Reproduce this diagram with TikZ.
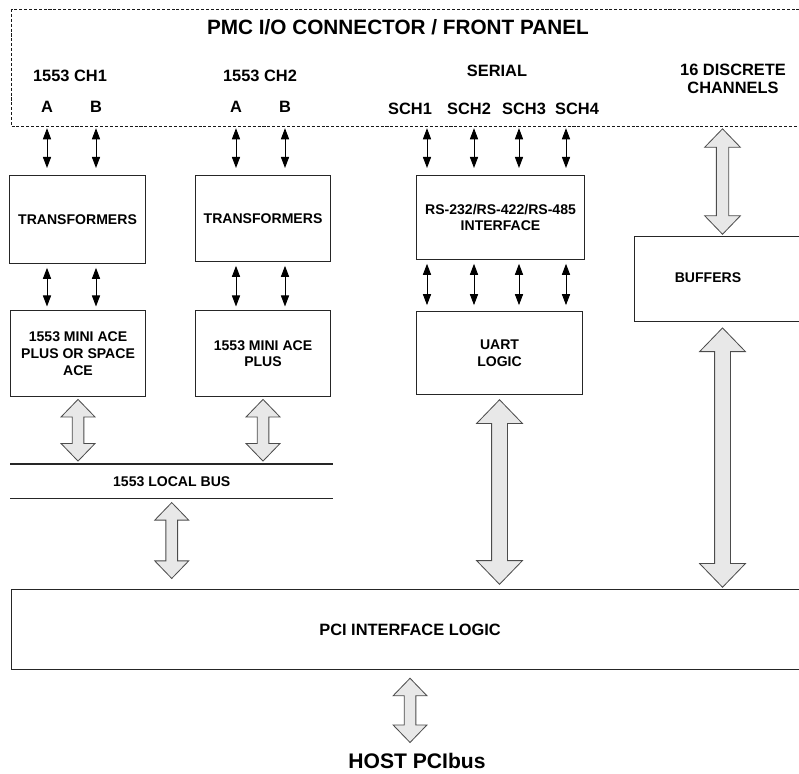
\documentclass[tikz,border=0pt]{standalone}
\usepackage{fontspec}
\setmainfont{Liberation Sans}
\usetikzlibrary{arrows.meta,calc}
\newcommand{\pxu}{0.03cm}

%% Wide grey double arrow, drawn straight down from #2 to #3, #1 scales it
\newcommand{\fatarrow}[3][1]{%
  \draw[fatarrow] let \p1=(#2), \p2=(#3) in
    (\x1,\y1) -- (\x1-14.5pt*#1,\y1-15pt*#1) -- (\x1-5pt*#1,\y1-15pt*#1)
    -- (\x1-5pt*#1,\y2+15pt*#1) -- (\x1-14.5pt*#1,\y2+15pt*#1) -- (\x1,\y2)
    -- (\x1+14.5pt*#1,\y2+15pt*#1) -- (\x1+5pt*#1,\y2+15pt*#1)
    -- (\x1+5pt*#1,\y1-15pt*#1) -- (\x1+14.5pt*#1,\y1-15pt*#1) -- cycle;}

\tikzset{
  block/.style={draw=black!85, line width=0.9pt, anchor=north west, inner sep=0pt,
    align=center, font=\fontsize{12}{14.2}\selectfont\bfseries},
  tag/.style={inner sep=0pt, align=center, font=\fontsize{14}{15.5}\selectfont\bfseries},
  link/.style={black, line width=0.8pt,
    {Triangle[length=9.5pt,width=7pt]}-{Triangle[length=9.5pt,width=7pt]},
    shorten <=3.2pt, shorten >=3pt},
  fatarrow/.style={draw=black!70, fill=black!9, line width=0.7pt},
  panel/.style={draw=black!90, line width=0.9pt, dash pattern=on 2.6pt off 1.6pt,
    anchor=north west, inner sep=0pt}
}

\begin{document}
\begin{tikzpicture}[x=\pxu, y=-\pxu]
\clip (0,0) rectangle (799,774);

%% Connector / front panel
\node[panel, minimum width=830*\pxu, minimum height=117*\pxu] (panel) at (11,9) {};
\node[inner sep=0pt, font=\fontsize{17.7}{21}\selectfont\bfseries] (title) at (398,27)
  {PMC I/O CONNECTOR / FRONT PANEL};

%% Channel labels
\node[tag] (ch1) at (70,76) {1553 CH1};
\node[tag] (ch2) at (260,76) {1553 CH2};
\node[tag] (a1) at (47,107) {A};
\node[tag] (b1) at (96,107) {B};
\node[tag] (a2) at (236,107) {A};
\node[tag] (b2) at (285,107) {B};
\node[tag] (serial) at (497,71) {SERIAL};
\node[tag] (sch1) at (410,109) {SCH1};
\node[tag] (sch2) at (469,109) {SCH2};
\node[tag] (sch3) at (524,109) {SCH3};
\node[tag] (sch4) at (577,109) {SCH4};
\node[tag] (discrete) at (733,79) {16 DISCRETE\\CHANNELS};

%% First row of blocks
\node[block, minimum width=136*\pxu, minimum height=88*\pxu] (trans1) at (9,175) {TRANSFORMERS};
\node[block, minimum width=135*\pxu, minimum height=86*\pxu] (trans2) at (195,175) {TRANSFORMERS};
\node[block, minimum width=168*\pxu, minimum height=84*\pxu] (rs) at (416,175)
  {RS-232/RS-422/RS-485\\INTERFACE};
\node[block, minimum width=176*\pxu, minimum height=85*\pxu] (buffers) at (634,236) {};
\node[inner sep=0pt, font=\fontsize{12}{14.2}\selectfont\bfseries] at (708,278) {BUFFERS};

%% Second row of blocks
\node[block, minimum width=135*\pxu, minimum height=86*\pxu] (mini1) at (10,310)
  {1553 MINI ACE\\PLUS OR SPACE\\ACE};
\node[block, minimum width=135*\pxu, minimum height=86*\pxu] (mini2) at (195,310)
  {1553 MINI ACE\\PLUS};
\node[block, minimum width=166*\pxu, minimum height=83*\pxu] (uart) at (416,311) {UART\\LOGIC};

%% Local bus: two lines with the name between
\node[anchor=north west, inner sep=0pt, minimum width=323*\pxu, minimum height=34*\pxu,
  font=\fontsize{12}{14}\selectfont\bfseries] (bus) at (10,464) {1553 LOCAL BUS};
\draw[line width=0.9pt, black!85] (bus.north west) -- (bus.north east);
\draw[line width=0.9pt, black!85] (bus.south west) -- (bus.south east);

%% PCI logic and host bus
\node[block, minimum width=797*\pxu, minimum height=80*\pxu,
  font=\fontsize{14}{16}\selectfont\bfseries] (pci) at (11,589) {PCI INTERFACE LOGIC};
\node[inner sep=0pt, font=\fontsize{18}{21}\selectfont\bfseries] (host) at (417,761) {HOST PCIbus};

%% Thin links: panel to first row
\foreach \ch/\blk in {a1/trans1,b1/trans1,a2/trans2,b2/trans2}
  \draw[link, shorten <=1pt, shorten >=6pt] (\ch |- panel.south) -- (\ch |- \blk.north);
\foreach \dx in {11,58,103,150}
  \draw[link, shorten <=1pt, shorten >=6pt]
    ([xshift=\dx*\pxu]rs.north west |- panel.south) -- ([xshift=\dx*\pxu]rs.north west);

%% Thin links: first row to second row
\foreach \ch/\upper/\lower in {a1/trans1/mini1,b1/trans1/mini1,a2/trans2/mini2,b2/trans2/mini2}
  \draw[link] (\ch |- \upper.south) -- (\ch |- \lower.north);
\foreach \dx in {11,58,103,150}
  \draw[link, shorten >=5pt] ([xshift=\dx*\pxu]rs.south west) -- ([xshift=\dx*\pxu]uart.north west);

%% Wide arrows
\fatarrow[1.05]{[yshift=-1.5pt]buffers.north |- panel.south}{[yshift=1.5pt]buffers.north}
\fatarrow{[yshift=-2pt]mini1.south}{[yshift=2.5pt]bus.north}
\fatarrow{[yshift=-2pt]mini2.south}{[yshift=2.5pt]bus.north}
\fatarrow{[yshift=-3.5pt]bus.south}{[yshift=9pt]pci.north}
\fatarrow[1.35]{[yshift=-4pt]uart.south}{[yshift=4pt]pci.north}
\fatarrow[1.35]{[yshift=-5pt]buffers.south}{[yshift=1.5pt]pci.north}
\fatarrow{[yshift=-7pt]pci.south}{[yshift=9pt]host.north}

\end{tikzpicture}
\end{document}
